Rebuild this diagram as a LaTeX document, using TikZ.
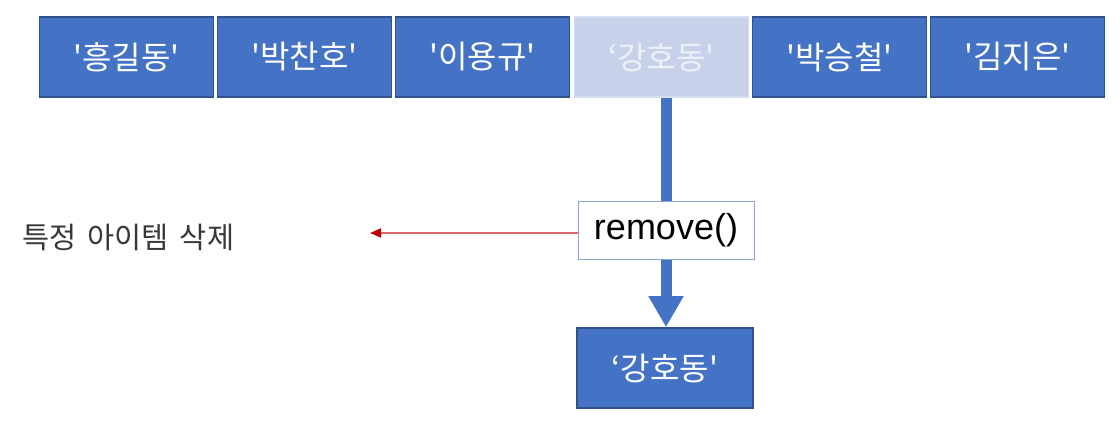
\documentclass[tikz,border=0pt]{standalone}
\usepackage{fontspec}
\newfontfamily\kr{Noto Sans CJK KR}
\newfontfamily\lat{Liberation Sans}
\usetikzlibrary{arrows.meta,backgrounds}
\definecolor{bfill}{HTML}{4472C4}
\definecolor{bline}{HTML}{2F528F}
\definecolor{lfill}{HTML}{C7D2EA}
\definecolor{lline}{HTML}{D6DEEF}
\definecolor{ltext}{HTML}{EDF1F8}
\definecolor{rline}{HTML}{8EA5D4}
\definecolor{redl}{HTML}{D96A6A}
\definecolor{redh}{HTML}{C00000}
\tikzset{
  item/.style={draw=bline, line width=1.6pt, fill=bfill, text=white,
    minimum width=174pt, minimum height=80pt, inner sep=0pt,
    font=\kr\fontsize{32}{34}\selectfont},
  ghost/.style={item, draw=lline, fill=lfill, text=ltext},
  func/.style={draw=rline, line width=1pt, fill=white, text=black,
    minimum width=176pt, minimum height=58pt, inner sep=0pt,
    font=\lat\fontsize{36}{40}\selectfont},
  lbl/.style={anchor=west, inner sep=0pt, text=black!78,
    font=\kr\fontsize{29.5}{32}\selectfont},
  fat/.style={draw=bfill, line width=11pt,
    -{Triangle[length=31pt,width=33pt]}},
  thin/.style={draw=redl, line width=1.8pt,
    -{Triangle[length=11pt,width=9pt,color=redh]}}
}
\begin{document}
\begin{tikzpicture}[x=1pt,y=-1pt]
\useasboundingbox (0,0) rectangle (1120,426);
\node[item] (a1) at (126.5,57) {'흥길동'};
\node[item] (a2) at (304.5,57) {'박찬호'};
\node[item] (a3) at (482.5,57) {'이용규'};
\node[ghost] (a4) at (661.5,57) {‘강호동'};
\node[item] (a5) at (839.5,57) {'박승철'};
\node[item] (a6) at (1017.5,57) {'김지은'};
\node[func] (rm) at (666,230) {remove()};
\node[item, minimum width=176pt] (bot) at (665,368) {‘강호동'};
\node[lbl] (txt) at (22,237) {특정\hspace{11pt}아이템\hspace{11pt}삭제};
\coordinate (tip) at (370,233);
\begin{scope}[on background layer]
\draw[fat] (a4.south -| rm.center) -- (rm.center |- bot.north);
\end{scope}
\draw[thin] (rm.west |- tip) -- (tip);
\end{tikzpicture}
\end{document}
